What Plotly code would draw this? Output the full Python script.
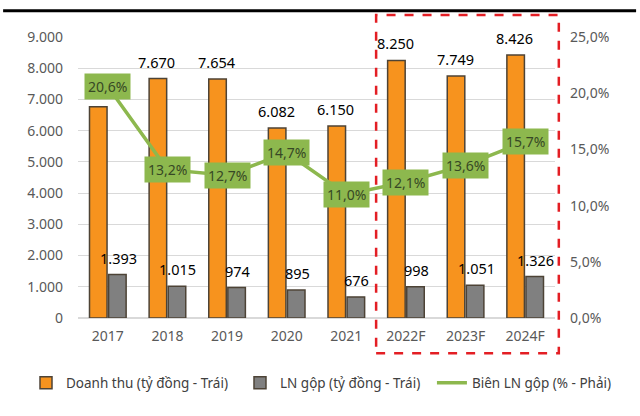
import plotly.graph_objects as go

categories = ["2017", "2018", "2019", "2020", "2021", "2022F", "2023F", "2024F"]
revenue = [6770, 7670, 7654, 6082, 6150, 8250, 7749, 8426]
gross_profit = [1393, 1015, 974, 895, 676, 998, 1051, 1326]
gross_margin = [20.6, 13.2, 12.7, 14.7, 11.0, 12.1, 13.6, 15.7]
left_ticks = [0, 1000, 2000, 3000, 4000, 5000, 6000, 7000, 8000, 9000]
right_ticks = [0, 5, 10, 15, 20, 25]

def fmt_thousands(v):
    return f"{v:,.0f}".replace(",", ".")

# 2017 revenue label is hidden behind the margin label in the original
revenue_text = [""] + [fmt_thousands(v) for v in revenue[1:]]
gp_text = [fmt_thousands(v) for v in gross_profit]

FONT = "Noto Sans"
ORANGE = "#F7931E"
GRAY = "#808080"
GREEN = "#8DB84E"
OUTLINE = "#4d4336"

fig = go.Figure()
fig.add_trace(go.Bar(
    x=categories, y=revenue, name="Doanh thu (tỷ đồng - Trái)", legend="legend",
    marker=dict(color=ORANGE, line=dict(color=OUTLINE, width=1.5)),
))
fig.add_trace(go.Bar(
    x=categories, y=gross_profit, name="LN gộp (tỷ đồng - Trái)", legend="legend2",
    marker=dict(color=GRAY, line=dict(color=OUTLINE, width=1.5)),
))
fig.add_trace(go.Scatter(
    x=categories, y=gross_margin, name="Biên LN gộp (% - Phải)", yaxis="y2",
    legend="legend3", mode="lines", line=dict(color=GREEN, width=3.5),
))

# Bar value labels (placed above each bar of the group)
for i in range(len(categories)):
    for val, txt, dx in ((revenue[i], revenue_text[i], -10.5),
                         (gross_profit[i], gp_text[i], 10.5)):
        if txt:
            fig.add_annotation(x=i, y=val, xref="x", yref="y", text=txt,
                               showarrow=False, yanchor="bottom", xshift=dx, yshift=5,
                               font=dict(color="#000000", size=14.5, family=FONT))

# Margin labels
for i, v in enumerate(gross_margin):
    fig.add_annotation(
        x=i, y=v, xref="x", yref="y2", text=f"{v:.1f}%".replace(".", ","),
        showarrow=False, bgcolor=GREEN, borderpad=3,
        font=dict(color="#374825", size=14, family=FONT),
    )

# Dashed red box around forecast years
fig.add_shape(type="rect", xref="paper", yref="paper",
              x0=0.625, x1=1.008, y0=-0.125, y1=1.078,
              line=dict(color="#E31E24", width=2.5, dash="dash"))
# Black rule under the (cropped) title
fig.add_shape(type="line", xref="paper", yref="paper",
              x0=-0.157, x1=1.17, y0=1.093, y1=1.093,
              line=dict(color="#000000", width=3))

leg_common = dict(orientation="h", yanchor="middle", y=-0.231, xanchor="left",
                  font=dict(size=13.5, color="#404040", family=FONT),
                  itemwidth=30, bgcolor="rgba(0,0,0,0)")

fig.update_layout(
    width=640, height=416,
    margin=dict(l=78, r=85, t=37, b=98, autoexpand=False),
    paper_bgcolor="white", plot_bgcolor="white",
    separators=",.",
    barmode="group", bargap=0.36, bargroupgap=0.08,
    font=dict(family=FONT, size=14, color="#595959"),
    showlegend=True,
    legend=dict(x=-0.109, **leg_common),
    legend2=dict(x=0.3396, **leg_common),
    legend3=dict(x=0.742, **leg_common),
    xaxis=dict(type="category", range=[-0.5, 7.5], showgrid=False, showline=False,
               ticks="", tickfont=dict(size=14, color="#595959"), ticklabelstandoff=8),
    yaxis=dict(range=[0, 9000], tickvals=left_ticks,
               ticktext=[fmt_thousands(v) for v in left_ticks],
               showgrid=True, gridcolor="#D9D9D9", gridwidth=1,
               zeroline=True, zerolinecolor="#D9D9D9",
               tickfont=dict(size=14, color="#595959"), ticks="", ticklabelstandoff=14),
    yaxis2=dict(range=[0, 25], tickvals=right_ticks,
                ticktext=[f"{v:.1f}%".replace(".", ",") for v in right_ticks],
                overlaying="y", side="right", showgrid=False, zeroline=False,
                tickfont=dict(size=14, color="#595959"), ticks="", ticklabelstandoff=14),
)

fig.write_html("out.html", config={"displayModeBar": False},
               post_script="document.body.style.margin='0';")
